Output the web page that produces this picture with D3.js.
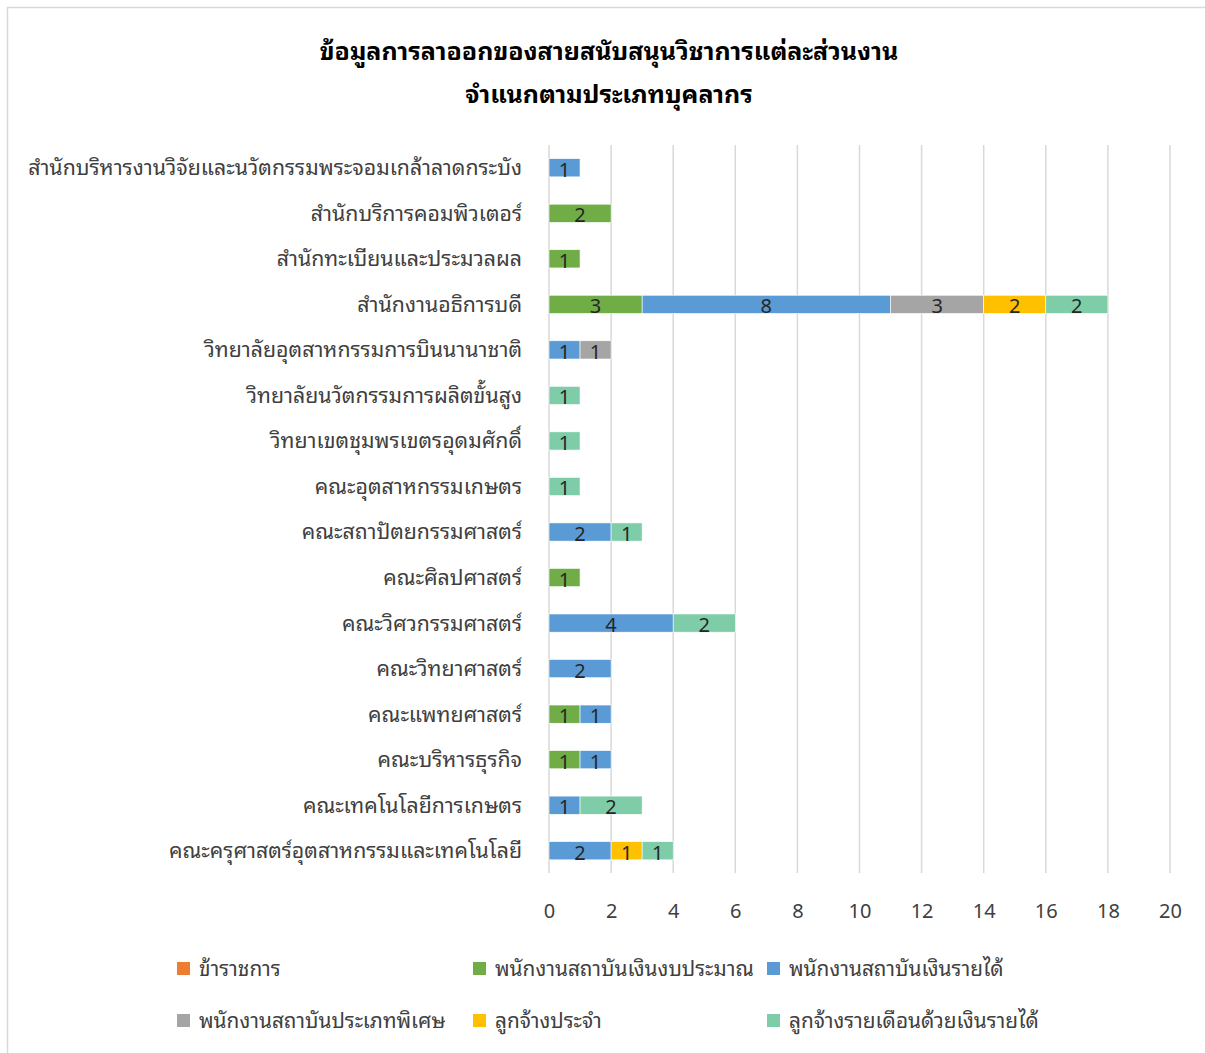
<!DOCTYPE html>
<html>
<head>
<meta charset="utf-8">
<script src="https://cdn.jsdelivr.net/npm/d3@7"></script>
<style>
  html, body { margin: 0; padding: 0; background: #fff; }
  svg text { font-family: "Noto Sans Thai Looped", "Loma", "Garuda", "Tlwg Typo", "Noto Sans Thai", "Noto Sans", sans-serif; }
</style>
</head>
<body>
<svg id="chart" width="1205" height="1053"></svg>
<script>
// Departments, top to bottom
const categories = [
  "สำนักบริหารงานวิจัยและนวัตกรรมพระจอมเกล้าลาดกระบัง",
  "สำนักบริการคอมพิวเตอร์",
  "สำนักทะเบียนและประมวลผล",
  "สำนักงานอธิการบดี",
  "วิทยาลัยอุตสาหกรรมการบินนานาชาติ",
  "วิทยาลัยนวัตกรรมการผลิตขั้นสูง",
  "วิทยาเขตชุมพรเขตรอุดมศักดิ์",
  "คณะอุตสาหกรรมเกษตร",
  "คณะสถาปัตยกรรมศาสตร์",
  "คณะศิลปศาสตร์",
  "คณะวิศวกรรมศาสตร์",
  "คณะวิทยาศาสตร์",
  "คณะแพทยศาสตร์",
  "คณะบริหารธุรกิจ",
  "คณะเทคโนโลยีการเกษตร",
  "คณะครุศาสตร์อุตสาหกรรมและเทคโนโลยี"
];

// Staff types (series)
const seriesNames = [
  "ข้าราชการ",
  "พนักงานสถาบันเงินงบประมาณ",
  "พนักงานสถาบันเงินรายได้",
  "พนักงานสถาบันประเภทพิเศษ",
  "ลูกจ้างประจำ",
  "ลูกจ้างรายเดือนด้วยเงินรายได้"
];
const seriesColors = ["#ED7D31", "#70AD47", "#5B9BD5", "#A5A5A5", "#FFC000", "#7FCDA8"];

// Values per series, in category order
const civilServants   = [0, 0, 0, 0, 0, 0, 0, 0, 0, 0, 0, 0, 0, 0, 0, 0];
const budgetStaff     = [0, 2, 1, 3, 0, 0, 0, 0, 0, 1, 0, 0, 1, 1, 0, 0];
const incomeStaff     = [1, 0, 0, 8, 1, 0, 0, 0, 2, 0, 4, 2, 1, 1, 1, 2];
const specialStaff    = [0, 0, 0, 3, 1, 0, 0, 0, 0, 0, 0, 0, 0, 0, 0, 0];
const permanentStaff  = [0, 0, 0, 2, 0, 0, 0, 0, 0, 0, 0, 0, 0, 0, 0, 1];
const monthlyStaff    = [0, 0, 0, 2, 0, 1, 1, 1, 1, 0, 2, 0, 0, 0, 2, 1];

const xTicks = [0, 2, 4, 6, 8, 10, 12, 14, 16, 18, 20];
const titleLines = [
  "ข้อมูลการลาออกของสายสนับสนุนวิชาการแต่ละส่วนงาน",
  "จำแนกตามประเภทบุคลากร"
];

const seriesValues = [civilServants, budgetStaff, incomeStaff, specialStaff, permanentStaff, monthlyStaff];
const rows = categories.map((c, i) => {
  const r = { category: c };
  seriesNames.forEach((s, k) => { r[s] = seriesValues[k][i]; });
  return r;
});

const svg = d3.select("#chart");

// outer frame
svg.append("rect")
  .attr("x", 7.5).attr("y", 7.5)
  .attr("width", 1205).attr("height", 1100)
  .attr("fill", "none").attr("stroke", "#d9d9d9").attr("stroke-width", 1.5);

// title
svg.append("g").selectAll("text").data(titleLines).join("text")
  .attr("x", 609).attr("y", (d, i) => 60 + i * 43)
  .attr("text-anchor", "middle")
  .attr("font-size", 25).attr("font-weight", "bold").attr("fill", "#000")
  .text(d => d);

const x = d3.scaleLinear().domain([0, 20]).range([549, 1170]);
const y = d3.scaleBand().domain(categories).range([145, 873.5]).paddingInner(0.6).paddingOuter(0.3);

// vertical gridlines
svg.append("g").selectAll("line").data(xTicks).join("line")
  .attr("x1", d => x(d)).attr("x2", d => x(d))
  .attr("y1", 145).attr("y2", 873)
  .attr("stroke", "#d9d9d9").attr("stroke-width", 1.5);

// x axis labels
const xAxis = d3.axisBottom(x).tickValues(xTicks).tickSize(0).tickPadding(0);
const xg = svg.append("g").attr("transform", "translate(0,903)").call(xAxis);
xg.select(".domain").remove();
xg.selectAll("text").attr("font-size", 20).attr("fill", "#404040")
  .attr("dy", "0.35em").attr("y", 8);

// category labels
const yAxis = d3.axisLeft(y).tickSize(0).tickPadding(0);
const yg = svg.append("g").attr("transform", "translate(522,0)").call(yAxis);
yg.select(".domain").remove();
yg.selectAll("text").attr("font-size", 21.3).attr("fill", "#404040").attr("dy", "0.35em");

// stacked bars
const stack = d3.stack().keys(seriesNames)(rows);
const layers = svg.append("g").selectAll("g").data(stack).join("g")
  .attr("fill", (d, i) => seriesColors[i]);

layers.selectAll("rect").data(d => d.filter(p => p[1] - p[0] > 0)).join("rect")
  .attr("x", p => x(p[0]))
  .attr("y", p => y(p.data.category))
  .attr("width", p => x(p[1]) - x(p[0]))
  .attr("height", y.bandwidth())
  .attr("stroke", "#fff").attr("stroke-width", 0.6);

// data labels
layers.selectAll("text").data(d => d.filter(p => p[1] - p[0] > 0)).join("text")
  .attr("x", p => (x(p[0]) + x(p[1])) / 2)
  .attr("y", p => y(p.data.category) + y.bandwidth() / 2)
  .attr("dy", "0.45em")
  .attr("text-anchor", "middle")
  .attr("font-size", 20).attr("fill", "#262626")
  .text(p => p[1] - p[0]);

// legend
const legendPos = [[177, 969], [473, 969], [767, 969], [177, 1021], [473, 1021], [767, 1021]];
const lg = svg.append("g").selectAll("g").data(seriesNames).join("g")
  .attr("transform", (d, i) => `translate(${legendPos[i][0]},${legendPos[i][1]})`);
lg.append("rect").attr("x", 0).attr("y", -7).attr("width", 13).attr("height", 13)
  .attr("fill", (d, i) => seriesColors[i]);
lg.append("text").attr("x", 22).attr("y", 0).attr("dy", "0.35em")
  .attr("font-size", 20.8).attr("fill", "#404040").text(d => d);
</script>
</body>
</html>
